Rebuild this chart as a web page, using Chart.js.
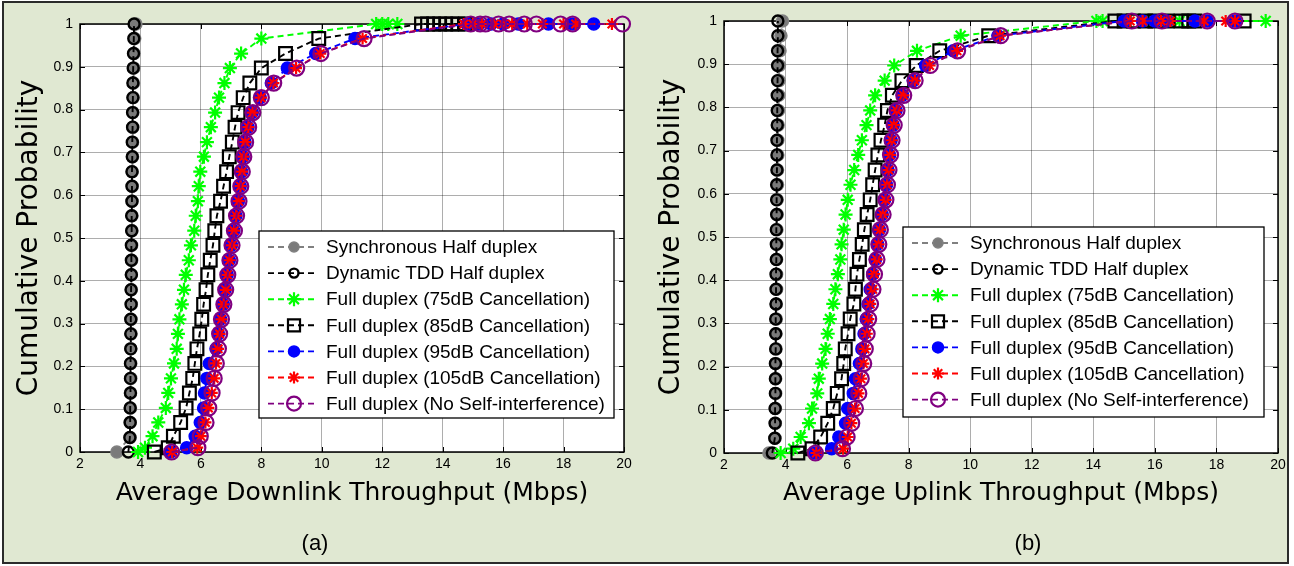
<!DOCTYPE html>
<html>
<head>
<meta charset="utf-8">
<script src="https://cdn.jsdelivr.net/npm/chart.js@4.4.1/dist/chart.umd.min.js"></script>
<style>
    body { margin: 0; background: #fff; width: 1294px; height: 566px; position: relative; overflow: hidden; }
    #frame { position: absolute; left: 2px; top: 1px; width: 1287px; height: 563px; box-sizing: border-box;
             border: 2px solid #2b2b2b; background: #e0e8d2; }
    canvas { position: absolute; top: 0; }
    .cap { position: absolute; top: 530px; line-height: 26px; font: 22px 'Liberation Sans', Arial, sans-serif;
           transform: translateX(-50%); color: #000; }
</style>
</head>
<body>
<div id="frame"></div>
<canvas id="dlChart" width="647" height="566" style="left:0"></canvas>
<canvas id="ulChart" width="647" height="566" style="left:647px"></canvas>
<div class="cap" style="left:315px">(a)</div>
<div class="cap" style="left:1028px">(b)</div>
<script>
// ---- data ----
const seriesNames = [
    'Synchronous Half duplex',
    'Dynamic TDD Half duplex',
    'Full duplex (75dB Cancellation)',
    'Full duplex (85dB Cancellation)',
    'Full duplex (95dB Cancellation)',
    'Full duplex (105dB Cancellation)',
    'Full duplex (No Self-interference)'
];

const xTicks = [2, 4, 6, 8, 10, 12, 14, 16, 18, 20];
const yTicks = [0, 0.1, 0.2, 0.3, 0.4, 0.5, 0.6, 0.7, 0.8, 0.9, 1];
const yTickLabels = ['0', '0.1', '0.2', '0.3', '0.4', '0.5', '0.6', '0.7', '0.8', '0.9', '1'];

// cumulative probability levels of the plotted samples
const levelsHD = [0, 0.034, 0.069, 0.103, 0.138, 0.172, 0.207, 0.241, 0.276, 0.31, 0.345, 0.379, 0.414, 0.448, 0.483,
    0.517, 0.552, 0.586, 0.621, 0.655, 0.69, 0.724, 0.759, 0.793, 0.828, 0.862, 0.897, 0.931, 0.966, 1];
const levelsFD = [0, 0.01, 0.037, 0.069, 0.103, 0.138, 0.172, 0.207, 0.241, 0.276, 0.31, 0.345, 0.379, 0.414, 0.448,
    0.483, 0.517, 0.552, 0.586, 0.621, 0.655, 0.69, 0.724, 0.759, 0.793, 0.828, 0.862, 0.897, 0.931, 0.966];

// (a) downlink throughput, Mbps
const dlSyncX = [3.22, 3.66, 3.66, 3.67, 3.67, 3.68, 3.68, 3.68, 3.69, 3.69, 3.70, 3.70, 3.70, 3.71, 3.71,
    3.72, 3.72, 3.72, 3.73, 3.73, 3.74, 3.74, 3.75, 3.75, 3.76, 3.77, 3.78, 3.79, 3.81, 3.85];
const dlTddX = [3.60, 3.65, 3.66, 3.66, 3.67, 3.67, 3.67, 3.68, 3.68, 3.68, 3.69, 3.69, 3.70, 3.70, 3.70,
    3.71, 3.71, 3.72, 3.72, 3.72, 3.73, 3.73, 3.74, 3.74, 3.75, 3.75, 3.76, 3.77, 3.78, 3.79];
const dl75X = [3.92, 4.15, 4.40, 4.59, 4.84, 4.92, 5.01, 5.11, 5.20, 5.24, 5.29, 5.37, 5.44, 5.50, 5.60,
    5.67, 5.78, 5.83, 5.90, 5.93, 5.98, 6.10, 6.20, 6.33, 6.47, 6.60, 6.78, 6.96, 7.33, 8.00];
const dl75Tail = [11.8, 12.0, 12.2, 12.5];
const dl85X = [4.46, 4.92, 5.09, 5.33, 5.51, 5.62, 5.73, 5.80, 5.87, 5.96, 6.03, 6.09, 6.17, 6.23, 6.31,
    6.40, 6.46, 6.53, 6.65, 6.75, 6.85, 6.94, 7.04, 7.13, 7.23, 7.40, 7.62, 8.00, 8.80, 9.90];
const dl85Tail = [13.3, 13.5, 13.7, 13.9, 14.1, 14.3, 14.5, 14.75];
const dl95X = [5.00, 5.53, 5.81, 5.98, 6.09, 6.12, 6.20, 6.28, 6.50, 6.58, 6.65, 6.74, 6.80, 6.87, 6.94,
    7.01, 7.09, 7.16, 7.24, 7.30, 7.35, 7.40, 7.46, 7.56, 7.70, 7.96, 8.33, 8.86, 9.80, 11.10];
const dl95Tail = [14.8, 15.2, 15.6, 16.0, 16.5, 17.5, 18.3, 19.0];
const dl105X = [5.05, 5.88, 6.00, 6.15, 6.25, 6.36, 6.44, 6.50, 6.57, 6.62, 6.68, 6.75, 6.82, 6.88, 6.95,
    7.03, 7.10, 7.17, 7.25, 7.31, 7.36, 7.41, 7.47, 7.57, 7.71, 7.99, 8.40, 9.15, 9.95, 11.35];
const dl105Tail = [14.7, 15.0, 15.3, 15.7, 16.0, 16.3, 16.8, 17.3, 18.0, 18.4, 19.6];
const dlNoSiX = [5.03, 5.90, 5.98, 6.17, 6.26, 6.37, 6.44, 6.51, 6.58, 6.62, 6.68, 6.76, 6.82, 6.89, 6.96,
    7.03, 7.11, 7.18, 7.26, 7.32, 7.37, 7.42, 7.48, 7.58, 7.72, 8.00, 8.41, 9.17, 9.97, 11.40];
const dlNoSiTail = [14.93, 15.24, 15.42, 15.85, 16.2, 16.7, 17.1, 17.9, 18.3, 19.95];

// (b) uplink throughput, Mbps
const ulSyncX = [3.46, 3.66, 3.67, 3.67, 3.68, 3.68, 3.68, 3.69, 3.69, 3.70, 3.70, 3.71, 3.71, 3.71, 3.72,
    3.72, 3.73, 3.73, 3.74, 3.74, 3.75, 3.75, 3.76, 3.77, 3.78, 3.79, 3.80, 3.82, 3.85, 3.90];
const ulTddX = [3.57, 3.65, 3.66, 3.66, 3.67, 3.67, 3.67, 3.68, 3.68, 3.68, 3.69, 3.69, 3.69, 3.70, 3.70,
    3.70, 3.71, 3.71, 3.71, 3.72, 3.72, 3.72, 3.73, 3.73, 3.73, 3.74, 3.74, 3.74, 3.75, 3.75];
const ul75X = [3.84, 4.25, 4.49, 4.76, 4.86, 5.03, 5.08, 5.19, 5.30, 5.37, 5.44, 5.55, 5.62, 5.70, 5.78,
    5.82, 5.89, 5.95, 6.02, 6.11, 6.23, 6.36, 6.48, 6.63, 6.75, 6.91, 7.22, 7.53, 8.27, 9.69];
const ul75Tail = [14.1, 14.3, 15.0, 15.8, 16.8, 17.2, 19.6];
const ul85X = [4.40, 4.86, 5.14, 5.37, 5.55, 5.68, 5.82, 5.89, 5.94, 6.03, 6.10, 6.22, 6.27, 6.32, 6.40,
    6.49, 6.56, 6.65, 6.75, 6.83, 6.91, 7.00, 7.10, 7.22, 7.31, 7.47, 7.78, 8.25, 9.01, 10.60];
const ul85Tail = [14.7, 15.0, 15.3, 15.7, 16.0, 16.4, 16.85, 17.1, 17.3, 18.9];
const ul95X = [4.97, 5.50, 5.73, 5.95, 6.02, 6.20, 6.27, 6.40, 6.48, 6.55, 6.62, 6.68, 6.75, 6.83, 6.92,
    6.99, 7.05, 7.14, 7.22, 7.28, 7.33, 7.38, 7.43, 7.50, 7.59, 7.80, 8.15, 8.55, 9.45, 10.90];
const ul95Tail = [15.0, 15.6, 16.0, 16.4, 17.3, 17.7, 18.6];
const ul105X = [5.00, 5.87, 6.02, 6.14, 6.26, 6.37, 6.45, 6.53, 6.58, 6.64, 6.69, 6.75, 6.83, 6.88, 6.96,
    7.02, 7.07, 7.16, 7.25, 7.30, 7.35, 7.40, 7.45, 7.52, 7.61, 7.83, 8.20, 8.68, 9.57, 10.97];
const ul105Tail = [15.2, 15.6, 16.2, 16.5, 17.6, 18.3, 18.6];
const ulNoSiX = [4.97, 5.85, 6.00, 6.15, 6.27, 6.38, 6.46, 6.54, 6.59, 6.65, 6.70, 6.76, 6.84, 6.89, 6.97,
    7.03, 7.08, 7.17, 7.26, 7.31, 7.36, 7.41, 7.46, 7.53, 7.62, 7.84, 8.21, 8.70, 9.59, 10.99];
const ulNoSiTail = [15.25, 16.23, 17.7, 18.6];

// ---- styles ----
const seriesStyles = [
    {color: '#808080', pointStyle: 'circle', radius: 6, fill: '#7a7a7a', width: 1.5, legendRadius: 5},
    {color: '#000000', pointStyle: 'circle', radius: 5.5, fill: 'rgba(0,0,0,0)', width: 2.4, legendRadius: 4.5},
    {color: '#00ff00', pointStyle: 'star', radius: 7, fill: 'rgba(0,0,0,0)', width: 2.2, legendRadius: 7},
    {color: '#000000', pointStyle: 'rect', radius: 9, fill: 'rgba(0,0,0,0)', width: 2.2, legendRadius: 8.5},
    {color: '#0000ff', pointStyle: 'circle', radius: 6, fill: '#0000ff', width: 1.5, legendRadius: 5.5},
    {color: '#ff0000', pointStyle: 'star', radius: 6, fill: 'rgba(0,0,0,0)', width: 2.2, legendRadius: 6},
    {color: '#800080', pointStyle: 'circle', radius: 7.5, fill: 'rgba(0,0,0,0)', width: 2.2, legendRadius: 7}
];

let cdf = (xs, levels, tail) => {
    let pts = xs.map((x, i) => ({x: x, y: levels[i]}));
    (tail || []).forEach(x => pts.push({x: x, y: 1}));
    return pts;
};

// axes box, inner ticks and the white plot background
const axesBox = {
    id: 'axesBox',
    beforeDraw(chart) {
        let a = chart.chartArea;
        chart.ctx.save();
        chart.ctx.fillStyle = '#ffffff';
        chart.ctx.fillRect(a.left, a.top, a.right - a.left, a.bottom - a.top);
        chart.ctx.restore();
    },
    beforeDatasetsDraw(chart) {
        let ctx = chart.ctx;
        let a = chart.chartArea;
        let xs = chart.scales.x, ys = chart.scales.y;
        ctx.save();
        ctx.strokeStyle = '#000';
        ctx.lineWidth = 1;
        ctx.beginPath();
        xTicks.forEach(v => {
            let px = Math.round(xs.getPixelForValue(v)) + 0.5;
            ctx.moveTo(px, a.bottom); ctx.lineTo(px, a.bottom - 5);
            ctx.moveTo(px, a.top); ctx.lineTo(px, a.top + 5);
        });
        yTicks.forEach(v => {
            let py = Math.round(ys.getPixelForValue(v)) + 0.5;
            ctx.moveTo(a.left, py); ctx.lineTo(a.left + 5, py);
            ctx.moveTo(a.right, py); ctx.lineTo(a.right - 5, py);
        });
        ctx.stroke();
        ctx.lineWidth = 1.5;
        ctx.strokeRect(a.left, a.top, a.right - a.left, a.bottom - a.top);
        ctx.restore();
    }
};

// legend box drawn inside the axes like the MATLAB one
const boxLegend = {
    id: 'boxLegend',
    afterDatasetsDraw(chart, args, opts) {
        let ctx = chart.ctx;
        let b = opts.box;
        ctx.save();
        ctx.fillStyle = '#ffffff';
        ctx.fillRect(b.x, b.y, b.w, b.h);
        ctx.strokeStyle = '#000';
        ctx.lineWidth = 1.3;
        ctx.strokeRect(b.x, b.y, b.w, b.h);
        chart.data.datasets.forEach((ds, i) => {
            let st = seriesStyles[i];
            let y = b.y + 16 + i * 26.1;
            ctx.setLineDash(ds.borderDash);
            ctx.strokeStyle = st.color;
            ctx.lineWidth = ds.borderWidth;
            ctx.beginPath();
            ctx.moveTo(b.x + 9, y);
            ctx.lineTo(b.x + 58, y);
            ctx.stroke();
            ctx.setLineDash([]);
            ctx.fillStyle = st.fill;
            ctx.strokeStyle = st.color;
            ctx.lineWidth = st.width;
            Chart.helpers.drawPoint(ctx, {pointStyle: st.pointStyle, radius: st.legendRadius, borderWidth: st.width, rotation: 0}, b.x + 35, y);
            ctx.fillStyle = '#000';
            ctx.font = "19px 'Liberation Sans', Arial, sans-serif";
            ctx.textBaseline = 'middle';
            ctx.fillText(ds.label, b.x + 67, y + 1);
        });
        ctx.restore();
    }
};

let makeChart = (canvasId, series, cfg) => {
    let datasets = series.map((pts, i) => {
        let st = seriesStyles[i];
        return {
            label: seriesNames[i],
            data: pts,
            showLine: true,
            fill: false,
            borderColor: st.color,
            borderWidth: 1.9,
            borderDash: [6, 4],
            pointStyle: st.pointStyle,
            pointRadius: st.radius,
            pointHoverRadius: st.radius,
            pointBorderWidth: st.width,
            pointBackgroundColor: st.fill,
            pointBorderColor: st.color,
            clip: false,
            order: 7 - i
        };
    });

    return new Chart(document.getElementById(canvasId), {
        type: 'scatter',
        data: {datasets: datasets},
        options: {
            responsive: false,
            animation: false,
            events: [],
            layout: {padding: cfg.padding},
            scales: {
                x: {
                    type: 'linear',
                    min: 2,
                    max: 20,
                    afterBuildTicks: s => { s.ticks = xTicks.map(v => ({value: v})); },
                    afterFit: s => { s.height = cfg.xAxisHeight; },
                    grid: {color: 'rgba(0,0,0,0.32)', lineWidth: 1, drawTicks: false},
                    border: {display: false},
                    ticks: {
                        color: '#000', padding: 4, maxRotation: 0, autoSkip: false,
                        font: {family: "'Liberation Sans', Arial, sans-serif", size: 14},
                        callback: v => String(v)
                    },
                    title: {
                        display: true,
                        text: cfg.xTitle,
                        color: '#000',
                        font: {family: "'Comic Sans MS', 'DejaVu Sans', sans-serif", size: 25},
                        padding: {top: 0, bottom: 58}
                    }
                },
                y: {
                    type: 'linear',
                    min: 0,
                    max: 1,
                    afterBuildTicks: s => { s.ticks = yTicks.map(v => ({value: v})); },
                    afterFit: s => { s.width = cfg.yAxisWidth; },
                    grid: {color: 'rgba(0,0,0,0.32)', lineWidth: 1, drawTicks: false},
                    border: {display: false},
                    ticks: {
                        color: '#000', padding: 7, autoSkip: false,
                        font: {family: "'Liberation Sans', Arial, sans-serif", size: 14},
                        callback: (v, i) => yTickLabels[i]
                    },
                    title: {
                        display: true,
                        text: 'Cumulative Probability',
                        color: '#000',
                        font: {family: "'Comic Sans MS', 'DejaVu Sans', sans-serif", size: 28},
                        padding: {top: cfg.yTitlePad, bottom: 0}
                    }
                }
            },
            plugins: {
                legend: {display: false},
                tooltip: {enabled: false},
                boxLegend: {box: cfg.legendBox}
            }
        },
        plugins: [axesBox, boxLegend]
    });
};

makeChart('dlChart', [
    cdf(dlSyncX, levelsHD),
    cdf(dlTddX, levelsHD),
    cdf(dl75X, levelsFD, dl75Tail),
    cdf(dl85X, levelsFD, dl85Tail),
    cdf(dl95X, levelsFD, dl95Tail),
    cdf(dl105X, levelsFD, dl105Tail),
    cdf(dlNoSiX, levelsFD, dlNoSiTail)
], {
    padding: {left: 0, top: 24, right: 23, bottom: 0},
    yAxisWidth: 80,
    xAxisHeight: 114,
    yTitlePad: 13,
    xTitle: 'Average Downlink Throughput (Mbps)',
    legendBox: {x: 259, y: 231, w: 355, h: 187}
});

makeChart('ulChart', [
    cdf(ulSyncX, levelsHD),
    cdf(ulTddX, levelsHD),
    cdf(ul75X, levelsFD, ul75Tail),
    cdf(ul85X, levelsFD, ul85Tail),
    cdf(ul95X, levelsFD, ul95Tail),
    cdf(ul105X, levelsFD, ul105Tail),
    cdf(ulNoSiX, levelsFD, ulNoSiTail)
], {
    padding: {left: 0, top: 21, right: 16, bottom: 0},
    yAxisWidth: 77,
    xAxisHeight: 113,
    yTitlePad: 8,
    xTitle: 'Average Uplink Throughput (Mbps)',
    legendBox: {x: 256, y: 227, w: 361, h: 190}
});
</script>
</body>
</html>
